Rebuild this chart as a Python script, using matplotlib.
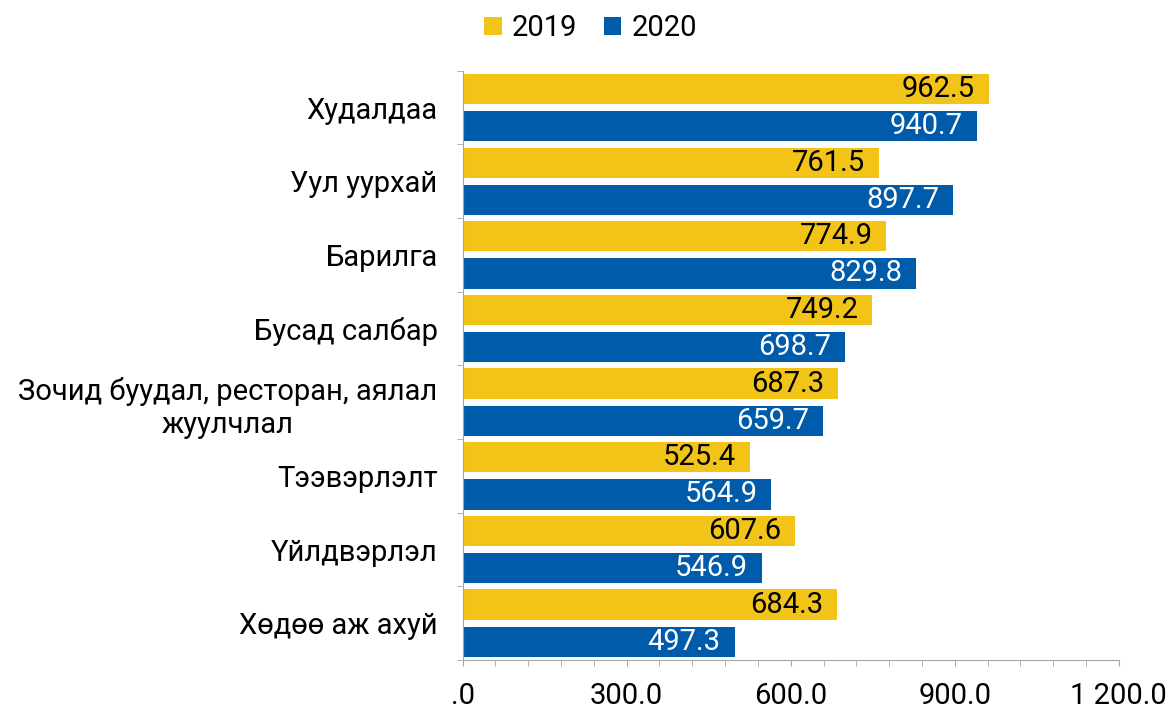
import matplotlib.pyplot as plt
import numpy as np

plt.rcParams['font.family'] = ['Roboto', 'DejaVu Sans']

categories = ['Худалдаа', 'Уул уурхай', 'Барилга', 'Бусад салбар',
              'Зочид буудал, ресторан, аялал\nжуулчлал', 'Тээвэрлэлт',
              'Үйлдвэрлэл', 'Хөдөө аж ахуй']
vals_2019 = [962.5, 761.5, 774.9, 749.2, 687.3, 525.4, 607.6, 684.3]
vals_2020 = [940.7, 897.7, 829.8, 698.7, 659.7, 564.9, 546.9, 497.3]
series_names = ['2019', '2020']
x_ticks = [0, 300, 600, 900, 1200]
x_tick_labels = ['.0', '300.0', '600.0', '900.0', '1 200.0']

yellow = '#F2C417'
blue = '#005BAA'
fs = 21

fig = plt.figure(figsize=(11.74, 7.10), dpi=100)
ax = fig.add_axes([0.394, 0.0704, 0.559, 0.830])

y = np.arange(len(categories))
h = 0.41
off = 0.2525
b1 = ax.barh(y - off, vals_2019, height=h, color=yellow, label=series_names[0])
b2 = ax.barh(y + off, vals_2020, height=h, color=blue, label=series_names[1])

for bars, vals, c in [(b1, vals_2019, 'black'), (b2, vals_2020, 'white')]:
    for bar, v in zip(bars, vals):
        ax.annotate(f'{v:.1f}', (v, bar.get_y() + bar.get_height() / 2),
                    xytext=(-10, 0), textcoords='offset points',
                    ha='right', va='center', fontsize=fs, color=c)

ax.set_xlim(0, 1200)
ax.set_ylim(len(categories) - 0.5, -0.5)

ax.set_xticks(x_ticks)
ax.set_xticklabels(x_tick_labels, fontsize=fs)
ax.set_xticks(np.arange(0, 1201, 60), minor=True)
ax.tick_params(axis='x', which='both', direction='out', length=4.5,
               color='#A6A6A6', pad=11)

ax.set_yticks(y)
ax.set_yticklabels(categories, fontsize=fs, linespacing=1.25,
                   multialignment='center')
ax.set_yticks(np.arange(-0.5, len(categories)), minor=True)
ax.tick_params(axis='y', which='major', length=0, pad=18)
ax.tick_params(axis='y', which='minor', direction='out', length=4.5,
               color='#A6A6A6')

for s in ['top', 'right']:
    ax.spines[s].set_visible(False)
ax.spines['left'].set_color('#A6A6A6')
ax.spines['bottom'].set_color('#A6A6A6')

fig.legend(handles=[b1, b2], labels=series_names, loc='center',
           bbox_to_anchor=(0.503, 0.96), ncol=2, frameon=False, fontsize=fs,
           handlelength=0.6, handleheight=0.6, handletextpad=0.35,
           columnspacing=0.9)

fig.savefig('out.png', dpi=100)
